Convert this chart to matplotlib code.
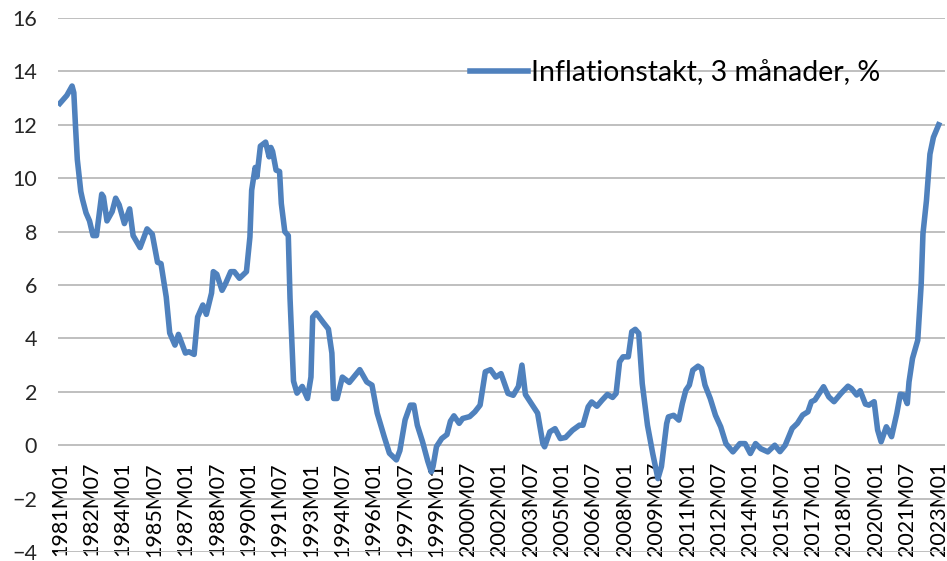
import numpy as np
import matplotlib.pyplot as plt

plt.rcParams['font.family'] = ['Lato', 'DejaVu Sans']

# months counted from 1981M01 (0) and the value at that month
month_no = [0, 4, 7, 8, 9, 10, 12, 13, 15, 17, 19, 21, 24, 25, 27, 30, 32, 34, 37, 40,
            42, 46, 50, 53, 56, 58, 61, 63, 66, 68, 72, 74, 77, 79, 82, 84, 87, 88, 90, 93,
            95, 98, 100, 103, 107, 109, 110, 112, 113, 115, 118, 120, 121, 122, 124, 126, 127, 129, 131, 132,
            134, 136, 139, 142, 144, 145, 147, 151, 154, 156, 157, 159, 162, 166, 172, 176, 179, 182, 186, 189,
            193, 195, 198, 201, 203, 205, 208, 211, 213, 214, 216, 219, 222, 224, 226, 229, 231, 235, 238, 241,
            244, 247, 250, 253, 257, 260, 263, 265, 267, 271, 274, 277, 278, 281, 284, 287, 290, 294, 298, 300,
            303, 305, 308, 311, 314, 317, 319, 321, 323, 326, 328, 330, 332, 334, 337, 340, 343, 345, 348, 349,
            352, 355, 357, 359, 361, 363, 366, 368, 370, 373, 376, 379, 382, 386, 390, 393, 396, 399, 402, 406,
            410, 413, 416, 420, 423, 426, 429, 431, 433, 438, 441, 444, 448, 452, 454, 457, 459, 462, 464, 467,
            469, 471, 474, 475, 477, 480, 482, 484, 486, 487, 489, 492, 494, 495, 497, 499, 501, 504]
inflation = [12.8, 13.1, 13.45, 13.2, 11.9, 10.7, 9.5, 9.2, 8.7, 8.4, 7.85, 7.85, 9.4, 9.3, 8.4, 8.75, 9.25, 9.0, 8.3, 8.85,
             7.85, 7.4, 8.1, 7.9, 6.85, 6.8, 5.55, 4.2, 3.75, 4.15, 3.45, 3.5, 3.4, 4.8, 5.25, 4.9, 5.7, 6.5, 6.4, 5.8,
             6.05, 6.5, 6.5, 6.25, 6.5, 7.8, 9.55, 10.4, 10.05, 11.2, 11.35, 10.8, 11.15, 11.0, 10.3, 10.25, 9.05, 8.0, 7.85, 5.5,
             2.4, 1.95, 2.2, 1.75, 2.55, 4.8, 4.95, 4.6, 4.35, 3.45, 1.75, 1.75, 2.55, 2.35, 2.83, 2.37, 2.25, 1.2, 0.32, -0.3,
             -0.55, -0.2, 0.95, 1.5, 1.5, 0.75, 0.13, -0.6, -1.0, -0.8, -0.05, 0.25, 0.4, 0.9, 1.1, 0.82, 1.0, 1.07, 1.25, 1.5,
             2.75, 2.83, 2.55, 2.68, 1.94, 1.87, 2.2, 3.0, 1.9, 1.5, 1.2, 0.06, -0.06, 0.5, 0.62, 0.25, 0.29, 0.56, 0.75, 0.75,
             1.44, 1.62, 1.46, 1.69, 1.9, 1.79, 1.94, 3.12, 3.31, 3.31, 4.25, 4.34, 4.19, 2.31, 0.75, -0.31, -1.25, -0.8, 0.81, 1.06,
             1.12, 0.94, 1.56, 2.06, 2.25, 2.81, 2.96, 2.87, 2.25, 1.75, 1.12, 0.69, 0.06, -0.25, 0.06, 0.06, -0.31, 0.06, -0.13, -0.25,
             0.0, -0.24, 0.0, 0.63, 0.82, 1.13, 1.25, 1.63, 1.69, 2.19, 1.81, 1.63, 1.94, 2.21, 2.12, 1.88, 2.04, 1.54, 1.5, 1.63,
             0.57, 0.13, 0.69, 0.57, 0.32, 1.19, 1.91, 1.88, 1.56, 2.37, 3.25, 3.93, 6.05, 7.92, 9.16, 10.9, 11.53, 12.0]

tick_labels = ['1981M01', '1982M07', '1984M01', '1985M07', '1987M01', '1988M07', '1990M01',
               '1991M07', '1993M01', '1994M07', '1996M01', '1997M07', '1999M01', '2000M07',
               '2002M01', '2003M07', '2005M01', '2006M07', '2008M01', '2009M07', '2011M01',
               '2012M07', '2014M01', '2015M07', '2017M01', '2018M07', '2020M01', '2021M07', '2023M01']
tick_pos = [(int(s[:4]) - 1981) * 12 + int(s[5:]) - 1 for s in tick_labels]

fig = plt.figure(figsize=(9.47, 5.61), dpi=100)
ax = fig.add_axes([0.0612, 0.016, 0.9368, 0.952])

ax.plot(month_no, inflation, color='#4f81bd', lw=4, solid_joinstyle='round',
        label='Inflationstakt, 3 månader, %', zorder=3)

# x axis crosses at 0 (set before the labels, set_position resets ticks)
for s in ax.spines.values():
    s.set_visible(False)
ax.spines['bottom'].set_position(('data', 0))

ax.set_ylim(-4, 16)
ax.set_yticks(np.arange(-4, 17, 2))
ax.set_xlim(-1.1, 507.7)
ax.set_xticks(tick_pos)
ax.set_xticklabels(tick_labels)
ax.tick_params(axis='x', length=0, pad=12, labelsize=15.5, labelrotation=90, colors='#000000')
ax.tick_params(axis='y', length=0, pad=15, labelsize=15.5, colors='#262626')
ax.grid(axis='y', color='#bfbfbf', lw=1.4)
ax.set_axisbelow(True)

fig.legend(loc='center left', bbox_to_anchor=(0.496, 0.870), frameon=False,
           fontsize=20.5, handlelength=2.05, handletextpad=0.1, borderpad=0, borderaxespad=0)

fig.savefig('out.png', dpi=100)
